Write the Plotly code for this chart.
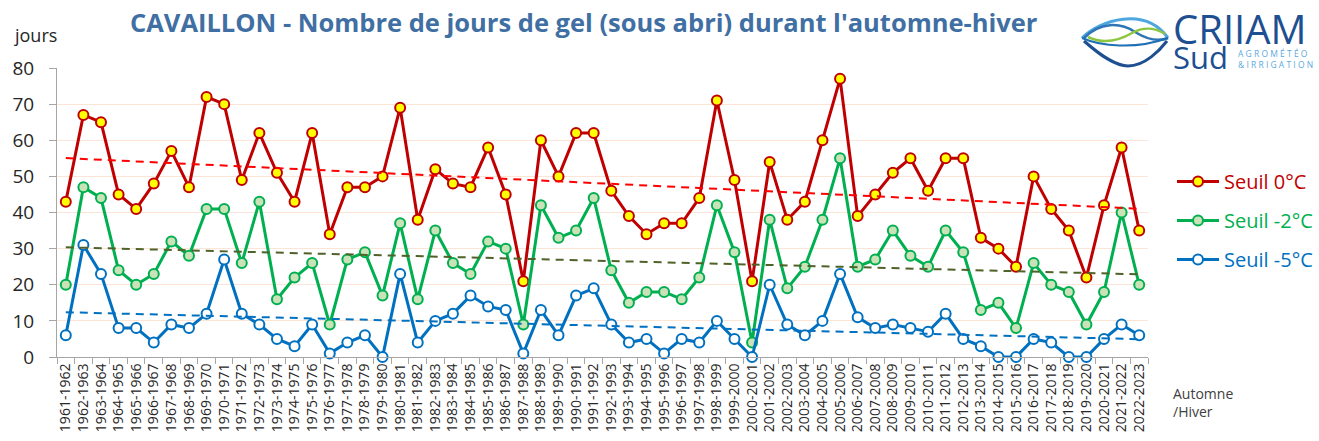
import numpy as np
import plotly.graph_objects as go

seasons = [f"{y}-{y+1}" for y in range(1961, 2023)]

seuil_0 = [43, 67, 65, 45, 41, 48, 57, 47, 72, 70, 49, 62, 51, 43, 62, 34,
           47, 47, 50, 69, 38, 52, 48, 47, 58, 45, 21, 60, 50, 62, 62, 46,
           39, 34, 37, 37, 44, 71, 49, 21, 54, 38, 43, 60, 77, 39, 45, 51,
           55, 46, 55, 55, 33, 30, 25, 50, 41, 35, 22, 42, 58, 35]
seuil_m2 = [20, 47, 44, 24, 20, 23, 32, 28, 41, 41, 26, 43, 16, 22, 26, 9,
            27, 29, 17, 37, 16, 35, 26, 23, 32, 30, 9, 42, 33, 35, 44, 24,
            15, 18, 18, 16, 22, 42, 29, 4, 38, 19, 25, 38, 55, 25, 27, 35,
            28, 25, 35, 29, 13, 15, 8, 26, 20, 18, 9, 18, 40, 20]
seuil_m5 = [6, 31, 23, 8, 8, 4, 9, 8, 12, 27, 12, 9, 5, 3, 9, 1,
            4, 6, 0, 23, 4, 10, 12, 17, 14, 13, 1, 13, 6, 17, 19, 9,
            4, 5, 1, 5, 4, 10, 5, 0, 20, 9, 6, 10, 23, 11, 8, 9,
            8, 7, 12, 5, 3, 0, 0, 5, 4, 0, 0, 5, 9, 6]

series = [
    ("Seuil 0°C", seuil_0, "#C00000", "#FFFF00", "#FF0000"),
    ("Seuil -2°C", seuil_m2, "#00B050", "#C9E2B8", "#4F6228"),
    ("Seuil -5°C", seuil_m5, "#0070C0", "#FFFFFF", "#0070C0"),
]

W, H = 1319, 441
X0, X1, Y0, Y1 = 57, 1148, 68, 357   # plot area in page pixels
L, T, R, B = X0, Y0, W - X1, H - Y1
PW = X1 - X0
PH = Y1 - Y0


def px(x):
    return (x - X0) / PW


def py(y):
    return (Y1 - y) / PH


def P(x, y):
    return f"{px(x):.5f},{py(y):.5f}"


fig = go.Figure()
idx = np.arange(len(seasons))
for name, vals, lc, mc, tc in series:
    fig.add_trace(go.Scatter(
        x=seasons, y=vals, mode="lines+markers",
        name=f"<span style='color:{lc}'>{name}</span>",
        legendgroup=name,
        line=dict(color=lc, width=3),
        marker=dict(size=10, color=mc, line=dict(color=lc, width=2)),
        cliponaxis=False,
    ))
for name, vals, lc, mc, tc in series:
    a, b = np.polyfit(idx, np.array(vals, dtype=float), 1)
    fig.add_trace(go.Scatter(
        x=seasons, y=a * idx + b, mode="lines", showlegend=False,
        line=dict(color=tc, width=2, dash="8px,6px"),
        hoverinfo="skip",
    ))

fig.update_layout(
    width=W, height=H,
    margin=dict(l=L, r=R, t=T, b=B, autoexpand=False),
    paper_bgcolor="white", plot_bgcolor="white",
    font=dict(family="Open Sans", color="#262626"),
    showlegend=True,
    legend=dict(x=px(1172), y=py(162), xanchor="left", yanchor="top",
                font=dict(size=20), tracegroupgap=10, itemwidth=42,
                bgcolor="rgba(0,0,0,0)"),
    xaxis=dict(
        type="category", range=[-0.5, len(seasons) - 0.5], automargin=False,
        tickangle=-90, tickfont=dict(size=14, color="#262626"),
        showline=True, linecolor="#A6A6A6", linewidth=1,
        ticks="outside", tickson="boundaries", ticklen=6, tickcolor="#A6A6A6",
        showgrid=False, zeroline=False,
    ),
    yaxis=dict(
        range=[0, 80], dtick=10, automargin=False,
        tickfont=dict(size=19, color="#262626"),
        showline=True, linecolor="#A6A6A6", linewidth=1,
        ticks="outside", ticklen=7, tickcolor="#A6A6A6",
        ticklabelstandoff=11,
        showgrid=True, gridcolor="#FCE4D6", gridwidth=1,
        zeroline=False,
    ),
)

ann = [
    dict(text="<b>CAVAILLON - Nombre de jours de gel (sous abri) durant l'automne-hiver</b>",
         x=px(584), y=py(22), font=dict(size=25.5, color="#3F6FA3")),
    dict(text="jours", x=px(35), y=py(35), font=dict(size=18, color="#262626")),
    dict(text="Automne<br>/Hiver", x=px(1171), y=py(402), xanchor="left", align="left",
         font=dict(size=14, color="#404040")),
    dict(text="CRIIAM", x=px(1171), y=py(29), xanchor="left",
         font=dict(size=40, color="#1D4F91")),
    dict(text="Sud", x=px(1171), y=py(57), xanchor="left",
         font=dict(size=31, color="#1D4F91")),
    dict(text="A G R O M É T É O<br>& I R R I G A T I O N", x=px(1236), y=py(59),
         xanchor="left", align="left",
         font=dict(size=8.5, color="#5DA9DD")),
]
for a in ann:
    a.setdefault("xanchor", "center")
    fig.add_annotation(xref="paper", yref="paper", showarrow=False, yanchor="middle", **a)

logo_paths = [
    (f"M {P(1082,38)} C {P(1100,20)} {P(1145,6)} {P(1168,38)}", "#4DA6DF", 3),
    (f"M {P(1084,41)} C {P(1100,55)} {P(1115,66)} {P(1128,66)} C {P(1145,66)} {P(1160,50)} {P(1167,41)}", "#1D4F91", 3),
    (f"M {P(1084,38)} C {P(1100,22)} {P(1120,22)} {P(1135,32)} C {P(1148,40)} {P(1158,42)} {P(1168,38)}", "#2E75B6", 2.5),
    (f"M {P(1088,37)} C {P(1105,45)} {P(1120,40)} {P(1132,33)} C {P(1145,26)} {P(1155,28)} {P(1165,34)}", "#8DC63F", 2.5),
    (f"M {P(1082,38)} C {P(1100,46)} {P(1135,50)} {P(1168,38)}", "#1F6FB5", 2),
]
for path, col, w in logo_paths:
    fig.add_shape(type="path", path=path, xref="paper", yref="paper",
                  line=dict(color=col, width=w))

fig.write_html("out.html", config={"displayModeBar": False},
               post_script="document.body.style.margin='0';")
